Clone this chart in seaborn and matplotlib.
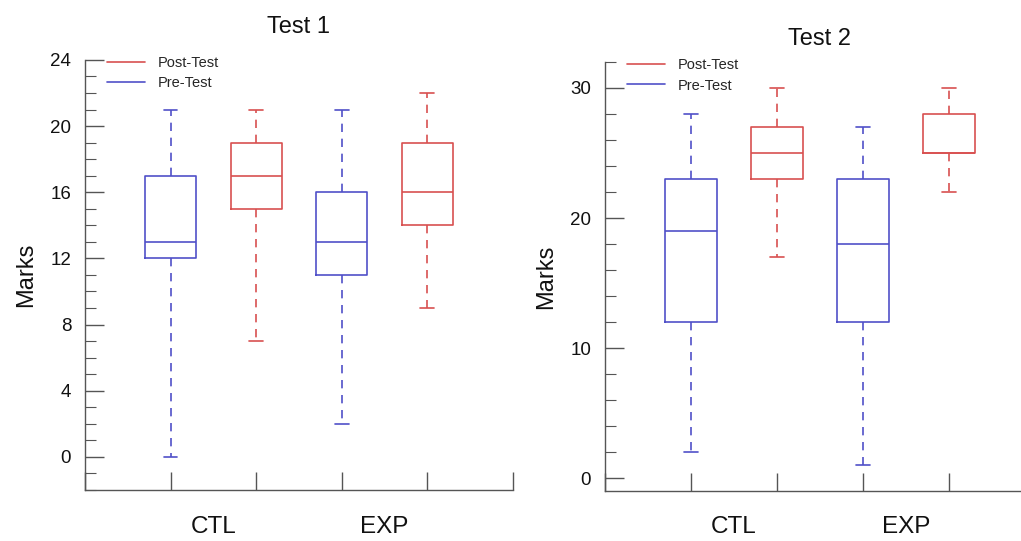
import pandas as pd
import matplotlib.pyplot as plt
import seaborn as sns
from matplotlib.lines import Line2D
from matplotlib.ticker import MultipleLocator

# five-number summaries: low whisker, q1, median, q3, high whisker
groups = ['CTL', 'EXP']
phases = ['Pre-Test', 'Post-Test']

test1_pre_ctl = [0, 12, 13, 17, 21]
test1_post_ctl = [7, 15, 17, 19, 21]
test1_pre_exp = [2, 11, 13, 16, 21]
test1_post_exp = [9, 14, 16, 19, 22]

test2_pre_ctl = [2, 12, 19, 23, 28]
test2_post_ctl = [17, 23, 25, 27, 30]
test2_pre_exp = [1, 12, 18, 23, 27]
test2_post_exp = [22, 25, 25, 28, 30]

BLUE = '#5050c8'
RED = '#d85050'
AXIS_GREY = '#555555'
TEXT = '#111111'


def build_frame(pre_ctl, post_ctl, pre_exp, post_exp):
    rows = []
    for grp, phase, vals in [('CTL', 'Pre-Test', pre_ctl), ('CTL', 'Post-Test', post_ctl),
                             ('EXP', 'Pre-Test', pre_exp), ('EXP', 'Post-Test', post_exp)]:
        for v in vals:
            rows.append({'Box': f'{grp} {phase}', 'Group': grp, 'Phase': phase, 'Marks': v})
    return pd.DataFrame(rows)


def draw_panel(ax, df, title, ylim, major, minor, title_pad):
    order = ['CTL Pre-Test', 'CTL Post-Test', 'EXP Pre-Test', 'EXP Post-Test']
    sns.boxplot(data=df, x='Box', y='Marks', hue='Phase', order=order,
                hue_order=phases, palette={'Pre-Test': BLUE, 'Post-Test': RED},
                fill=False, dodge=False, width=0.6, whis=(0, 100), linewidth=1.2,
                whiskerprops={'linestyle': (0, (5, 4))}, capwidths=0.16,
                legend=False, ax=ax)

    ax.set_xlim(-1, 4)
    ax.set_xticks([-1, 0, 1, 2, 3, 4])
    ax.set_xticklabels([])
    ax.set_xlabel('')
    ax.set_ylim(*ylim)
    ax.yaxis.set_major_locator(MultipleLocator(major))
    ax.yaxis.set_minor_locator(MultipleLocator(minor))

    for side in ['top', 'right']:
        ax.spines[side].set_visible(False)
    for side in ['left', 'bottom']:
        ax.spines[side].set_color(AXIS_GREY)
        ax.spines[side].set_linewidth(1.0)
    ax.tick_params(axis='y', which='both', left=True, right=False)
    ax.tick_params(axis='x', which='both', bottom=True, top=False)
    ax.tick_params(axis='y', which='major', direction='in', length=14, width=1.0,
                   color=AXIS_GREY, labelsize=13.5, labelcolor=TEXT, pad=10)
    ax.tick_params(axis='y', which='minor', direction='in', length=8, width=0.8,
                   color=AXIS_GREY)
    ax.tick_params(axis='x', which='major', direction='in', length=13, width=1.0,
                   color=AXIS_GREY)
    ax.grid(False)

    ax.set_ylabel('Marks', fontsize=17, color=TEXT)
    ax.yaxis.set_label_coords(-0.112, 0.5)
    ax.set_title(title, fontsize=17, pad=title_pad, color=TEXT)

    # group names sit low under each pair of boxes
    for i, grp in enumerate(groups):
        x_fig = ax.transData.transform((2 * i + 0.5, 0))[0] / ax.figure.bbox.width
        ax.figure.text(x_fig, 0.014, grp, ha='center', va='baseline', fontsize=17.5,
                       color=TEXT)

    handles = [Line2D([], [], color=RED, lw=1.2), Line2D([], [], color=BLUE, lw=1.2)]
    ax.legend(handles, ['Post-Test', 'Pre-Test'], loc='upper left',
              bbox_to_anchor=(0.021, 1.04), frameon=False, fontsize=10.5,
              handlelength=2.6, handletextpad=0.9, labelspacing=0.45)


sns.set_theme(style='white')
plt.rcParams['font.family'] = ['Liberation Sans', 'DejaVu Sans']

fig = plt.figure(figsize=(10.21, 5.41), dpi=100)
ax1 = fig.add_axes([0.0833, 0.0943, 0.419, 0.795])
ax2 = fig.add_axes([0.5926, 0.0924, 0.421, 0.793])

draw_panel(ax1, build_frame(test1_pre_ctl, test1_post_ctl, test1_pre_exp, test1_post_exp),
           'Test 1', (-2, 24), 4, 1, 19)
draw_panel(ax2, build_frame(test2_pre_ctl, test2_post_ctl, test2_pre_exp, test2_post_exp),
           'Test 2', (-1, 32), 10, 2, 12.5)

fig.savefig('out.png', dpi=100)
